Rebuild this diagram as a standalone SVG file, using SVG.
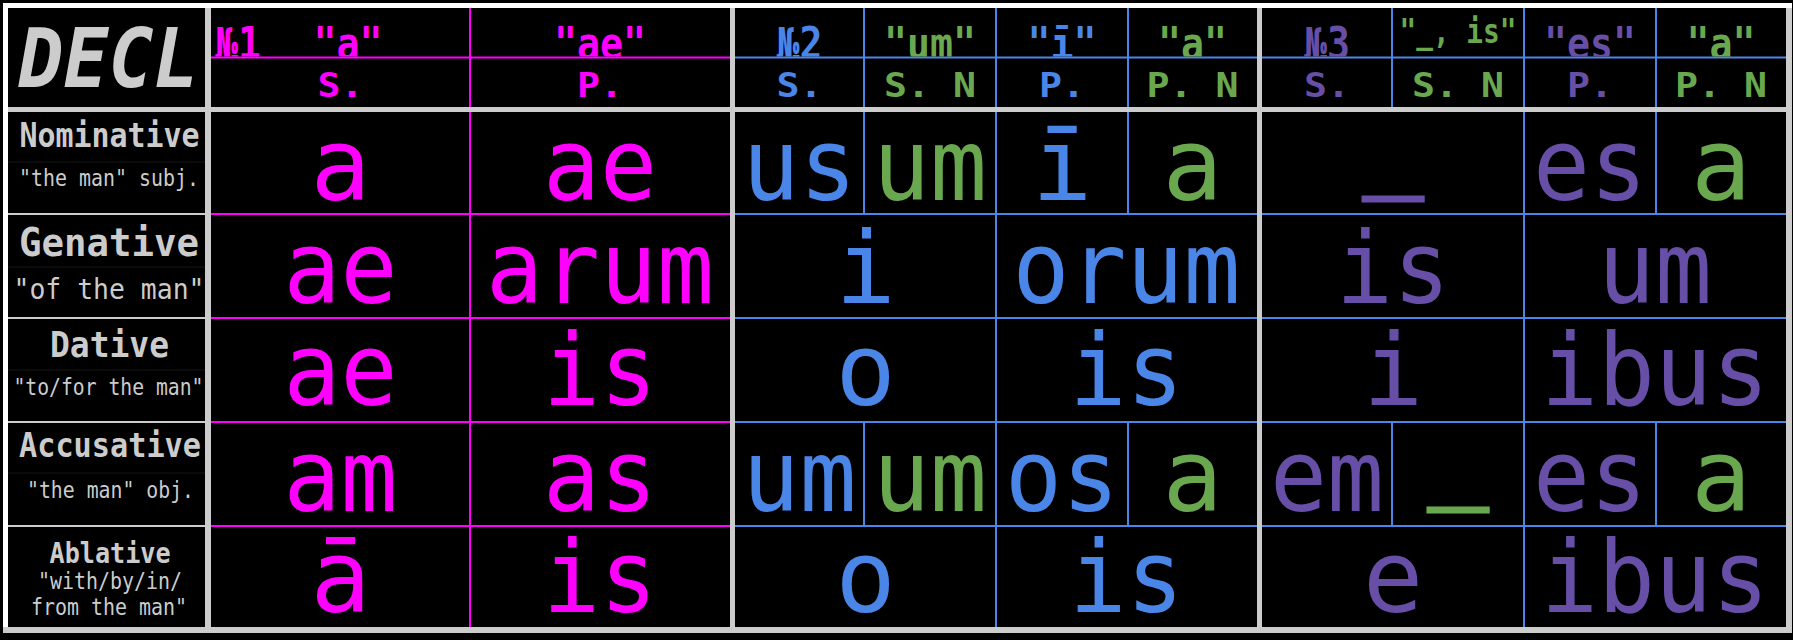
<svg xmlns="http://www.w3.org/2000/svg" width="1793" height="640" viewBox="0 0 1793 640">
<style>
  .mono{font-family:"DejaVu Sans Mono","Liberation Mono",monospace}
  .d{font-family:"DejaVu Sans Mono","Liberation Mono",monospace;font-size:100px;text-anchor:middle}
  .h1{font-family:"DejaVu Sans Mono","Liberation Mono",monospace;font-size:44px;font-weight:bold;text-anchor:middle}
  .h2{font-family:"DejaVu Sans Mono","Liberation Mono",monospace;font-size:34.5px;font-weight:bold;text-anchor:middle}
  .t{font-family:"DejaVu Sans Mono","Liberation Mono",monospace;font-weight:bold;fill:#cccccc;text-anchor:middle}
  .s{font-family:"DejaVu Sans Mono","Liberation Mono",monospace;fill:#cccccc;text-anchor:middle}
  .m{fill:#ff00ff}
  .b{fill:#4a86e8}
  .g{fill:#6aa84f}
  .p{fill:#674ea7}
  .us{stroke-width:3}
  .lm{stroke:#ff00ff;stroke-width:2}
  .lb{stroke:#4a86e8;stroke-width:2}
  .lg{stroke:#cccccc;stroke-width:2}
  .lf{stroke:#161616;stroke-width:1}
</style>
<defs>
  <clipPath id="hclip"><rect x="0" y="0" width="1793" height="56.5"/></clipPath>
</defs>
<rect x="0" y="0" width="1793" height="640" fill="#000"/>

<g id="frame">
  <rect x="3" y="627" width="1789" height="6" fill="#cccccc"/>
  <rect x="1786" y="3" width="6" height="630" fill="#cccccc"/>
  <rect x="3" y="3" width="1789" height="5" fill="#ffffff"/>
  <rect x="3" y="3" width="5" height="624" fill="#ffffff"/>
</g>

<g id="connectors">
  <!-- faint separators in left column -->
  <line class="lf" x1="8" y1="162" x2="205" y2="162"/>
  <line class="lf" x1="8" y1="267" x2="205" y2="267"/>
  <line class="lf" x1="8" y1="370" x2="205" y2="370"/>
  <line class="lf" x1="8" y1="473" x2="205" y2="473"/>
  <!-- left column row lines -->
  <line class="lg" x1="8" y1="214" x2="205" y2="214"/>
  <line class="lg" x1="8" y1="318" x2="205" y2="318"/>
  <line class="lg" x1="8" y1="422" x2="205" y2="422"/>
  <line class="lg" x1="8" y1="526" x2="205" y2="526"/>
  <!-- decl 1 grid -->
  <line class="lm" x1="211" y1="57.5" x2="730" y2="57.5"/>
  <line class="lm" x1="211" y1="214" x2="730" y2="214"/>
  <line class="lm" x1="211" y1="318" x2="730" y2="318"/>
  <line class="lm" x1="211" y1="422" x2="730" y2="422"/>
  <line class="lm" x1="211" y1="526" x2="730" y2="526"/>
  <line class="lm" x1="470" y1="8" x2="470" y2="627"/>
  <!-- decl 2 grid -->
  <line class="lb" x1="735" y1="57.5" x2="1257" y2="57.5"/>
  <line class="lb" x1="735" y1="214" x2="1257" y2="214"/>
  <line class="lb" x1="735" y1="318" x2="1257" y2="318"/>
  <line class="lb" x1="735" y1="422" x2="1257" y2="422"/>
  <line class="lb" x1="735" y1="526" x2="1257" y2="526"/>
  <line class="lb" x1="996" y1="8" x2="996" y2="627"/>
  <line class="lb" x1="864" y1="8" x2="864" y2="214"/>
  <line class="lb" x1="1128" y1="8" x2="1128" y2="214"/>
  <line class="lb" x1="864" y1="422" x2="864" y2="526"/>
  <line class="lb" x1="1128" y1="422" x2="1128" y2="526"/>
  <!-- decl 3 grid -->
  <line class="lb" x1="1262" y1="57.5" x2="1786" y2="57.5"/>
  <line class="lb" x1="1262" y1="214" x2="1786" y2="214"/>
  <line class="lb" x1="1262" y1="318" x2="1786" y2="318"/>
  <line class="lb" x1="1262" y1="422" x2="1786" y2="422"/>
  <line class="lb" x1="1262" y1="526" x2="1786" y2="526"/>
  <line class="lb" x1="1524" y1="8" x2="1524" y2="627"/>
  <line class="lb" x1="1392" y1="8" x2="1392" y2="112"/>
  <line class="lb" x1="1656" y1="8" x2="1656" y2="214"/>
  <line class="lb" x1="1392" y1="422" x2="1392" y2="526"/>
  <line class="lb" x1="1656" y1="422" x2="1656" y2="526"/>
  <!-- thick gray separators -->
  <rect x="205" y="8" width="6" height="619" fill="#cccccc"/>
  <rect x="8" y="107" width="1778" height="5" fill="#cccccc"/>
  <rect x="730" y="8" width="5" height="619" fill="#cccccc"/>
  <rect x="1257" y="8" width="5" height="619" fill="#cccccc"/>
</g>

<g id="corner">
  <text class="mono" x="108.5" y="87" font-size="81" font-weight="bold" font-style="italic" fill="#cccccc" text-anchor="middle" textLength="180" lengthAdjust="spacingAndGlyphs">DECL</text>
</g>

<g id="cases">
  <g id="nominative">
    <text class="t" x="109.5" y="147" font-size="33" textLength="180" lengthAdjust="spacingAndGlyphs">Nominative</text>
    <text class="s" x="109" y="186" font-size="23" textLength="180" lengthAdjust="spacingAndGlyphs">"the man" subj.</text>
  </g>
  <g id="genative">
    <text class="t" x="109" y="256" font-size="39" textLength="180" lengthAdjust="spacingAndGlyphs">Genative</text>
    <text class="s" x="109" y="299" font-size="29" textLength="191" lengthAdjust="spacingAndGlyphs">"of the man"</text>
  </g>
  <g id="dative">
    <text class="t" x="109.5" y="357" font-size="35" textLength="119" lengthAdjust="spacingAndGlyphs">Dative</text>
    <text class="s" x="108.5" y="395" font-size="22.5" textLength="190" lengthAdjust="spacingAndGlyphs">"to/for the man"</text>
  </g>
  <g id="accusative">
    <text class="t" x="110" y="457" font-size="33" textLength="182" lengthAdjust="spacingAndGlyphs">Accusative</text>
    <text class="s" x="110.5" y="498" font-size="22.5" textLength="167" lengthAdjust="spacingAndGlyphs">"the man" obj.</text>
  </g>
  <g id="ablative">
    <text class="t" x="110" y="563" font-size="28" textLength="121" lengthAdjust="spacingAndGlyphs">Ablative</text>
    <text class="s" x="110" y="589" font-size="22.5" textLength="144" lengthAdjust="spacingAndGlyphs">"with/by/in/</text>
    <text class="s" x="109" y="615" font-size="22.5" textLength="156" lengthAdjust="spacingAndGlyphs">from the man"</text>
  </g>
</g>

<g id="decl1">
  <g clip-path="url(#hclip)">
    <text class="h1 m" x="215" y="59" text-anchor="start" style="text-anchor:start" textLength="46" lengthAdjust="spacingAndGlyphs">№1</text>
    <text class="h1 m" x="348" y="59" textLength="69" lengthAdjust="spacingAndGlyphs">"a"</text>
    <text class="h1 m" x="600" y="59" textLength="92" lengthAdjust="spacingAndGlyphs">"ae"</text>
  </g>
  <text class="h2 m" x="340.5" y="97" textLength="46" lengthAdjust="spacingAndGlyphs">S.</text>
  <text class="h2 m" x="600" y="97" textLength="46" lengthAdjust="spacingAndGlyphs">P.</text>
  <text class="d m" x="340.5" y="200">a</text>
  <text class="d m" x="600" y="200" textLength="114" lengthAdjust="spacingAndGlyphs">ae</text>
  <text class="d m" x="340.5" y="303" textLength="114" lengthAdjust="spacingAndGlyphs">ae</text>
  <text class="d m" x="600" y="303" textLength="228" lengthAdjust="spacingAndGlyphs">arum</text>
  <text class="d m" x="340.5" y="405" textLength="114" lengthAdjust="spacingAndGlyphs">ae</text>
  <text class="d m" x="600" y="405" textLength="114" lengthAdjust="spacingAndGlyphs">is</text>
  <text class="d m" x="340.5" y="511" textLength="114" lengthAdjust="spacingAndGlyphs">am</text>
  <text class="d m" x="600" y="511" textLength="114" lengthAdjust="spacingAndGlyphs">as</text>
  <text class="d m" x="340.5" y="612">ā</text>
  <text class="d m" x="600" y="612" textLength="114" lengthAdjust="spacingAndGlyphs">is</text>
</g>

<g id="decl2">
  <g clip-path="url(#hclip)">
    <text class="h1 b" x="799.5" y="59" textLength="46" lengthAdjust="spacingAndGlyphs">№2</text>
    <text class="h1 g" x="930" y="59" textLength="92" lengthAdjust="spacingAndGlyphs">"um"</text>
    <text class="h1 b" x="1062" y="59" textLength="69" lengthAdjust="spacingAndGlyphs">"ī"</text>
    <text class="h1 g" x="1192.5" y="59" textLength="69" lengthAdjust="spacingAndGlyphs">"a"</text>
  </g>
  <text class="h2 b" x="799.5" y="97" textLength="46" lengthAdjust="spacingAndGlyphs">S.</text>
  <text class="h2 g" x="930" y="97" textLength="92" lengthAdjust="spacingAndGlyphs">S. N</text>
  <text class="h2 b" x="1062" y="97" textLength="46" lengthAdjust="spacingAndGlyphs">P.</text>
  <text class="h2 g" x="1192.5" y="97" textLength="92" lengthAdjust="spacingAndGlyphs">P. N</text>
  <text class="d b" x="799.5" y="200" textLength="114" lengthAdjust="spacingAndGlyphs">us</text>
  <text class="d g" x="930" y="200" textLength="114" lengthAdjust="spacingAndGlyphs">um</text>
  <text class="d b" x="1062" y="200">ī</text>
  <text class="d g" x="1192.5" y="200">a</text>
  <text class="d b" x="865.5" y="303">i</text>
  <text class="d b" x="1126.5" y="303" textLength="228" lengthAdjust="spacingAndGlyphs">orum</text>
  <text class="d b" x="865.5" y="405">o</text>
  <text class="d b" x="1126.5" y="405" textLength="114" lengthAdjust="spacingAndGlyphs">is</text>
  <text class="d b" x="799.5" y="511" textLength="114" lengthAdjust="spacingAndGlyphs">um</text>
  <text class="d g" x="930" y="511" textLength="114" lengthAdjust="spacingAndGlyphs">um</text>
  <text class="d b" x="1062" y="511" textLength="114" lengthAdjust="spacingAndGlyphs">os</text>
  <text class="d g" x="1192.5" y="511">a</text>
  <text class="d b" x="865.5" y="612">o</text>
  <text class="d b" x="1126.5" y="612" textLength="114" lengthAdjust="spacingAndGlyphs">is</text>
</g>

<g id="decl3">
  <g clip-path="url(#hclip)">
    <text class="h1 p" x="1327" y="59" textLength="46" lengthAdjust="spacingAndGlyphs">№3</text>
    <text class="h1 g" x="1458" y="43" font-size="33" style="font-size:33px" textLength="117" lengthAdjust="spacingAndGlyphs">"_, is"</text>
    <text class="h1 p" x="1590" y="59" textLength="92" lengthAdjust="spacingAndGlyphs">"es"</text>
    <text class="h1 g" x="1721" y="59" textLength="69" lengthAdjust="spacingAndGlyphs">"a"</text>
  </g>
  <text class="h2 p" x="1327" y="97" textLength="46" lengthAdjust="spacingAndGlyphs">S.</text>
  <text class="h2 g" x="1458" y="97" textLength="92" lengthAdjust="spacingAndGlyphs">S. N</text>
  <text class="h2 p" x="1590" y="97" textLength="46" lengthAdjust="spacingAndGlyphs">P.</text>
  <text class="h2 g" x="1721" y="97" textLength="92" lengthAdjust="spacingAndGlyphs">P. N</text>
  <text class="d p us" x="1393" y="177" stroke="#674ea7">_</text>
  <text class="d p" x="1590" y="200" textLength="114" lengthAdjust="spacingAndGlyphs">es</text>
  <text class="d g" x="1721" y="200">a</text>
  <text class="d p" x="1393" y="303" textLength="114" lengthAdjust="spacingAndGlyphs">is</text>
  <text class="d p" x="1655" y="303" textLength="114" lengthAdjust="spacingAndGlyphs">um</text>
  <text class="d p" x="1393" y="405">i</text>
  <text class="d p" x="1655" y="405" textLength="228" lengthAdjust="spacingAndGlyphs">ibus</text>
  <text class="d p" x="1327" y="511" textLength="114" lengthAdjust="spacingAndGlyphs">em</text>
  <text class="d g us" x="1458" y="488" stroke="#6aa84f">_</text>
  <text class="d p" x="1590" y="511" textLength="114" lengthAdjust="spacingAndGlyphs">es</text>
  <text class="d g" x="1721" y="511">a</text>
  <text class="d p" x="1393" y="612">e</text>
  <text class="d p" x="1655" y="612" textLength="228" lengthAdjust="spacingAndGlyphs">ibus</text>
</g>
</svg>
